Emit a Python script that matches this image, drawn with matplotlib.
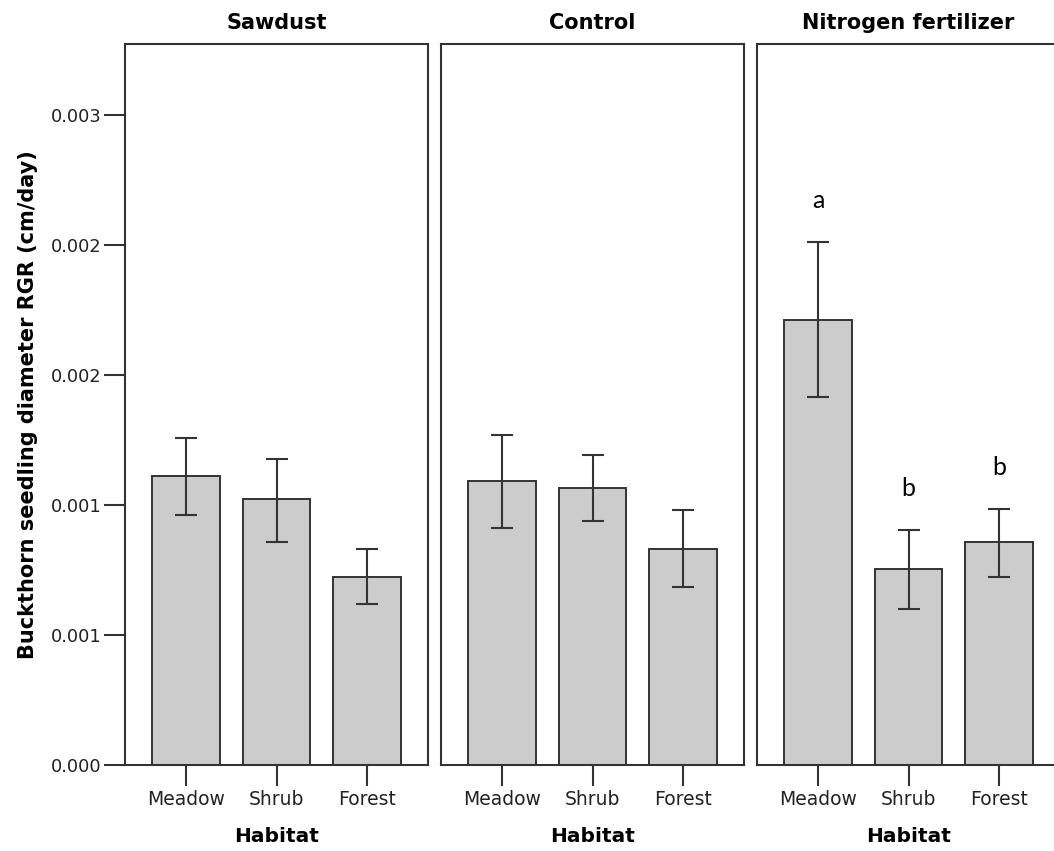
import matplotlib
matplotlib.use("Agg")
import matplotlib.pyplot as plt
from matplotlib.ticker import FormatStrFormatter
import numpy as np

groups = ["Sawdust", "Control", "Nitrogen fertilizer"]
habitats = ["Meadow", "Shrub", "Forest"]

# mean RGR per habitat, one list per treatment
means = {
    "Sawdust": [0.001112, 0.001022, 0.000724],
    "Control": [0.001092, 0.001067, 0.000832],
    "Nitrogen fertilizer": [0.001712, 0.000754, 0.000856],
}
# error bar bounds
err_lo = {
    "Sawdust": [0.000960, 0.000857, 0.000619],
    "Control": [0.000912, 0.000940, 0.000686],
    "Nitrogen fertilizer": [0.001415, 0.000600, 0.000723],
}
err_hi = {
    "Sawdust": [0.001259, 0.001177, 0.000830],
    "Control": [0.001270, 0.001192, 0.000981],
    "Nitrogen fertilizer": [0.002010, 0.000905, 0.000986],
}
letters = {
    "Sawdust": ["", "", ""],
    "Control": ["", "", ""],
    "Nitrogen fertilizer": ["a", "b", "b"],
}
yticks = [0.0, 0.0005, 0.001, 0.0015, 0.002, 0.0025]

edge = "#333333"
W, H = 1054, 851
fig = plt.figure(figsize=(W / 100, H / 100), dpi=100)

lefts = [125, 441, 757]
pw = 303
top, bottom = 44, 765

x = np.arange(len(habitats))
for i, (g, lx) in enumerate(zip(groups, lefts)):
    ax = fig.add_axes([lx / W, (H - bottom) / H, pw / W, (bottom - top) / H])
    m = np.array(means[g])
    lo = m - np.array(err_lo[g])
    hi = np.array(err_hi[g]) - m
    ax.bar(x, m, width=0.75, color="#cccccc", edgecolor=edge, linewidth=1.4, zorder=2)
    ax.errorbar(x, m, yerr=[lo, hi], fmt="none", ecolor=edge, elinewidth=1.5,
                capsize=8, capthick=1.5, zorder=3)
    for xi, t, top_v in zip(x, letters[g], err_hi[g]):
        if t:
            ax.text(xi, top_v + 0.00016, t, ha="center", va="center",
                    fontsize=18, family="Lato", color="black")
    ax.set_xlim(-0.674, 2.674)
    ax.set_ylim(0, 0.002773)
    ax.set_xticks(x)
    ax.set_xticklabels(habitats, fontsize=13.5, color="#222222")
    ax.tick_params(axis="x", length=15, width=1.5, color=edge, pad=3)
    ax.set_xlabel("Habitat", fontsize=14.5, fontweight="bold", labelpad=13)
    ax.set_title(g, fontsize=15, fontweight="bold", pad=11)
    for s in ax.spines.values():
        s.set_color(edge)
        s.set_linewidth(1.5)
    if i == 0:
        ax.set_yticks(yticks)
        ax.yaxis.set_major_formatter(FormatStrFormatter("%.3f"))
        ax.tick_params(axis="y", length=15, width=1.5, color=edge, pad=2,
                       labelsize=12.8, labelcolor="#222222")
        ax.set_ylabel("Buckthorn seedling diameter RGR (cm/day)", fontsize=15,
                      fontweight="bold", labelpad=9)
    else:
        ax.set_yticks([])

fig.savefig("out.png", dpi=100)
